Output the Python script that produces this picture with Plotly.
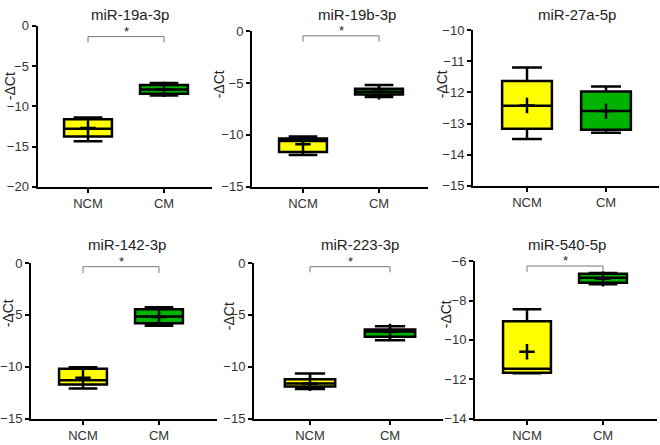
import plotly.graph_objects as go

W, H = 660, 445
categories = ["NCM", "CM"]
titles = ["miR-19a-3p", "miR-19b-3p", "miR-27a-5p", "miR-142-3p", "miR-223-3p", "miR-540-5p"]

# per panel stats: [NCM, CM]
lower = [[-14.35, -8.65], [-11.95, -6.35], [-13.5, -13.3], [-12.1, -6.05], [-12.15, -7.45], [-11.7, -7.18]]
q1 = [[-13.75, -8.45], [-11.65, -6.1], [-13.17, -13.2], [-11.7, -5.8], [-11.9, -7.1], [-11.67, -7.1]]
median = [[-12.8, -7.9], [-10.6, -5.85], [-12.43, -12.6], [-11.3, -5.15], [-11.6, -6.6], [-11.47, -6.85]]
q3 = [[-11.6, -7.35], [-10.35, -5.55], [-11.63, -11.97], [-10.2, -4.45], [-11.2, -6.4], [-9.05, -6.64]]
upper = [[-11.4, -7.1], [-10.15, -5.2], [-11.2, -11.81], [-10.05, -4.25], [-10.65, -6.1], [-8.44, -6.6]]
mean = [[-12.7, -7.9], [-10.9, -5.85], [-12.42, -12.6], [-11.05, -5.2], [-11.6, -6.6], [-10.6, -6.9]]

y_ranges = [[-20, 0], [-15, 0], [-15, -10], [-15, 0], [-15, 0], [-14, -6]]
y_dtick = [5, 5, 1, 5, 5, 2]
significant = [True, True, False, True, True, True]
bracket_y = [-1.34, -0.45, None, -0.35, -0.35, -6.25]
bracket_drop = [-2.06, -1.0, None, -0.95, -0.9, -6.55]

# layout geometry (pixels)
px_x = [(37.5, 212), (252, 428), (473, 659), (31, 217), (254, 443), (475, 657)]
px_y = [(19.5, 186), (25, 186), (24, 185), (265, 426), (265, 426), (263, 426)]
ncm_px = [88, 303, 527, 83, 310, 527]
unit_px = [76, 76, 79, 76, 80, 76]
title_pos = [(130, 8), (357, 8), (577, 8), (127, 246), (360, 246), (567, 246)]
ylab_pos = [(10, 82), (219, 80), (442, 80), (8, 317), (229, 320), (446, 318)]

colors = ["#FFFF00", "#00B200"]
fig = go.Figure()
layout = {}
shapes = []
annotations = []
font_fam = "Liberation Sans, Arial, sans-serif"

for i in range(6):
    n = "" if i == 0 else str(i + 1)
    xa, ya = "x" + n, "y" + n
    x0, x1 = px_x[i]
    y0, y1 = px_y[i]
    u = unit_px[i]
    xr = [(x0 - ncm_px[i]) / u, (x1 - ncm_px[i]) / u]
    for j in range(2):
        fig.add_trace(go.Box(
            x=[j], q1=[q1[i][j]], median=[median[i][j]], q3=[q3[i][j]],
            lowerfence=[lower[i][j]], upperfence=[upper[i][j]],
            width=0.63, whiskerwidth=0.6, fillcolor=colors[j],
            line=dict(color="black", width=2.5), xaxis=xa, yaxis=ya,
            showlegend=False, hoverinfo="skip", boxpoints=False))
    fig.add_trace(go.Scatter(
        x=[0, 1], y=mean[i], mode="markers", xaxis=xa, yaxis=ya,
        marker=dict(symbol="cross-thin", size=11, line=dict(color="black", width=2.5)),
        showlegend=False, hoverinfo="skip"))
    layout["xaxis" + n] = dict(
        domain=[x0 / W, x1 / W], range=xr, anchor=ya,
        tickvals=[0, 1], ticktext=categories, ticks="outside", ticklen=4,
        tickwidth=1.5, tickcolor="black", showline=True, linecolor="black",
        linewidth=2, showgrid=False, zeroline=False,
        tickfont=dict(family=font_fam, size=13, color="#333"))
    layout["yaxis" + n] = dict(
        domain=[1 - y1 / H, 1 - y0 / H], range=y_ranges[i], anchor=xa,
        dtick=y_dtick[i], ticks="outside", ticklen=4, tickwidth=1.5,
        tickcolor="black", showline=True, linecolor="black", linewidth=2,
        showgrid=False, zeroline=False,
        tickfont=dict(family=font_fam, size=13, color="#333"))
    annotations.append(dict(
        text=titles[i], x=title_pos[i][0] / W, y=1 - title_pos[i][1] / H,
        xref="paper", yref="paper", showarrow=False, xanchor="center",
        yanchor="middle", font=dict(family=font_fam, size=15, color="#222")))
    annotations.append(dict(
        text="-ΔCt", x=ylab_pos[i][0] / W, y=1 - ylab_pos[i][1] / H,
        xref="paper", yref="paper", showarrow=False, textangle=-90,
        xanchor="center", yanchor="middle",
        font=dict(family=font_fam, size=14, color="#222")))
    if significant[i]:
        by, bd = bracket_y[i], bracket_drop[i]
        shapes.append(dict(
            type="path", xref=xa, yref=ya,
            path=f"M 0 {bd} L 0 {by} L 1 {by} L 1 {bd}",
            line=dict(color="#777", width=1)))
        annotations.append(dict(
            text="*", x=0.5, y=by, xref=xa, yref=ya, showarrow=False,
            xanchor="center", yanchor="bottom", yshift=-4,
            font=dict(family=font_fam, size=13, color="#222")))

fig.update_layout(
    width=W, height=H, margin=dict(l=0, r=0, t=0, b=0),
    plot_bgcolor="white", paper_bgcolor="white",
    shapes=shapes, annotations=annotations, **layout)

fig.write_html(
    "out.html",
    config={"displayModeBar": False},
    post_script="document.body.style.margin='0';document.body.style.overflow='hidden';")
